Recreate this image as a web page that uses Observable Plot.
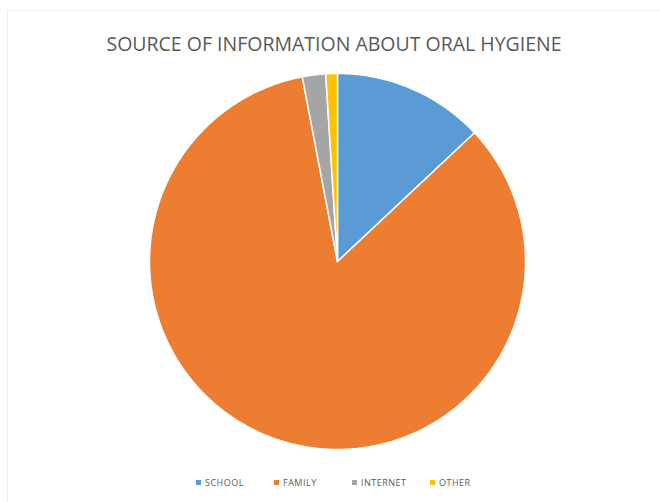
<!DOCTYPE html>
<html>
<head>
<meta charset="utf-8">
<script src="https://cdn.jsdelivr.net/npm/d3@7"></script>
<script src="https://cdn.jsdelivr.net/npm/@observablehq/plot@0.6"></script>
<style>
  html, body { margin: 0; padding: 0; background: #fff; }
  #wrap { position: relative; width: 660px; height: 502px; overflow: hidden; background: #fff; }
  #frame { position: absolute; left: 7px; top: 10px; right: -2px; bottom: -2px; border-left: 1px solid #eeeeee; border-top: 1px solid #eeeeee; }
  #chart { position: absolute; left: 0; top: 0; }
  #title { position: absolute; left: 0; width: 668px; top: 30px; text-align: center;
    font-family: "Open Sans", sans-serif; font-size: 19.5px; color: #595959; letter-spacing: 0px; }
  #legend { position: absolute; left: 196px; top: 476px; display: flex;
    font-family: "Open Sans", sans-serif; font-size: 9px; color: #595959; letter-spacing: 0.5px; }
  .item { display: flex; align-items: center; width: 78px; }
  .sw { width: 5px; height: 5px; margin-right: 4px; }
</style>
</head>
<body>
<div id="wrap">
  <div id="frame"></div>
  <div id="chart"></div>
  <div id="title"></div>
  <div id="legend"></div>
</div>
<script>
const title = "SOURCE OF INFORMATION ABOUT ORAL HYGIENE";
const categories = ["SCHOOL", "FAMILY", "INTERNET", "OTHER"];
const values = [13, 84, 2, 1];
const colors = ["#5B9BD5", "#ED7D31", "#A5A5A5", "#FFC000"];

// Build slice polygons from the values (clockwise from 12 o'clock)
const arcs = d3.pie().sort(null).value(d => d)(values);
const pts = [];
arcs.forEach((a, i) => {
  const cat = categories[i];
  pts.push({cat, x: 0, y: 0});
  const n = Math.max(4, Math.ceil((a.endAngle - a.startAngle) / 0.01));
  for (let k = 0; k <= n; k++) {
    const t = a.startAngle + (a.endAngle - a.startAngle) * k / n;
    pts.push({cat, x: Math.sin(t), y: Math.cos(t)});
  }
  pts.push({cat, x: 0, y: 0});
});

const cx = 337, cy = 261, r = 188;
const chart = Plot.plot({
  width: 660,
  height: 502,
  margin: 0,
  x: {domain: [-1, 1], range: [cx - r, cx + r], axis: null},
  y: {domain: [-1, 1], range: [cy + r, cy - r], axis: null},
  color: {domain: categories, range: colors},
  marks: [
    Plot.line(pts, {x: "x", y: "y", z: "cat", fill: "cat", stroke: "#fff", strokeWidth: 1.5, strokeLinejoin: "round", curve: "linear"})
  ]
});
document.getElementById("chart").appendChild(chart);
document.getElementById("title").textContent = title;

const leg = document.getElementById("legend");
categories.forEach((c, i) => {
  const it = document.createElement("div");
  it.className = "item";
  const sw = document.createElement("div");
  sw.className = "sw";
  sw.style.background = colors[i];
  const tx = document.createElement("span");
  tx.textContent = c;
  it.appendChild(sw); it.appendChild(tx);
  leg.appendChild(it);
});
</script>
</body>
</html>
